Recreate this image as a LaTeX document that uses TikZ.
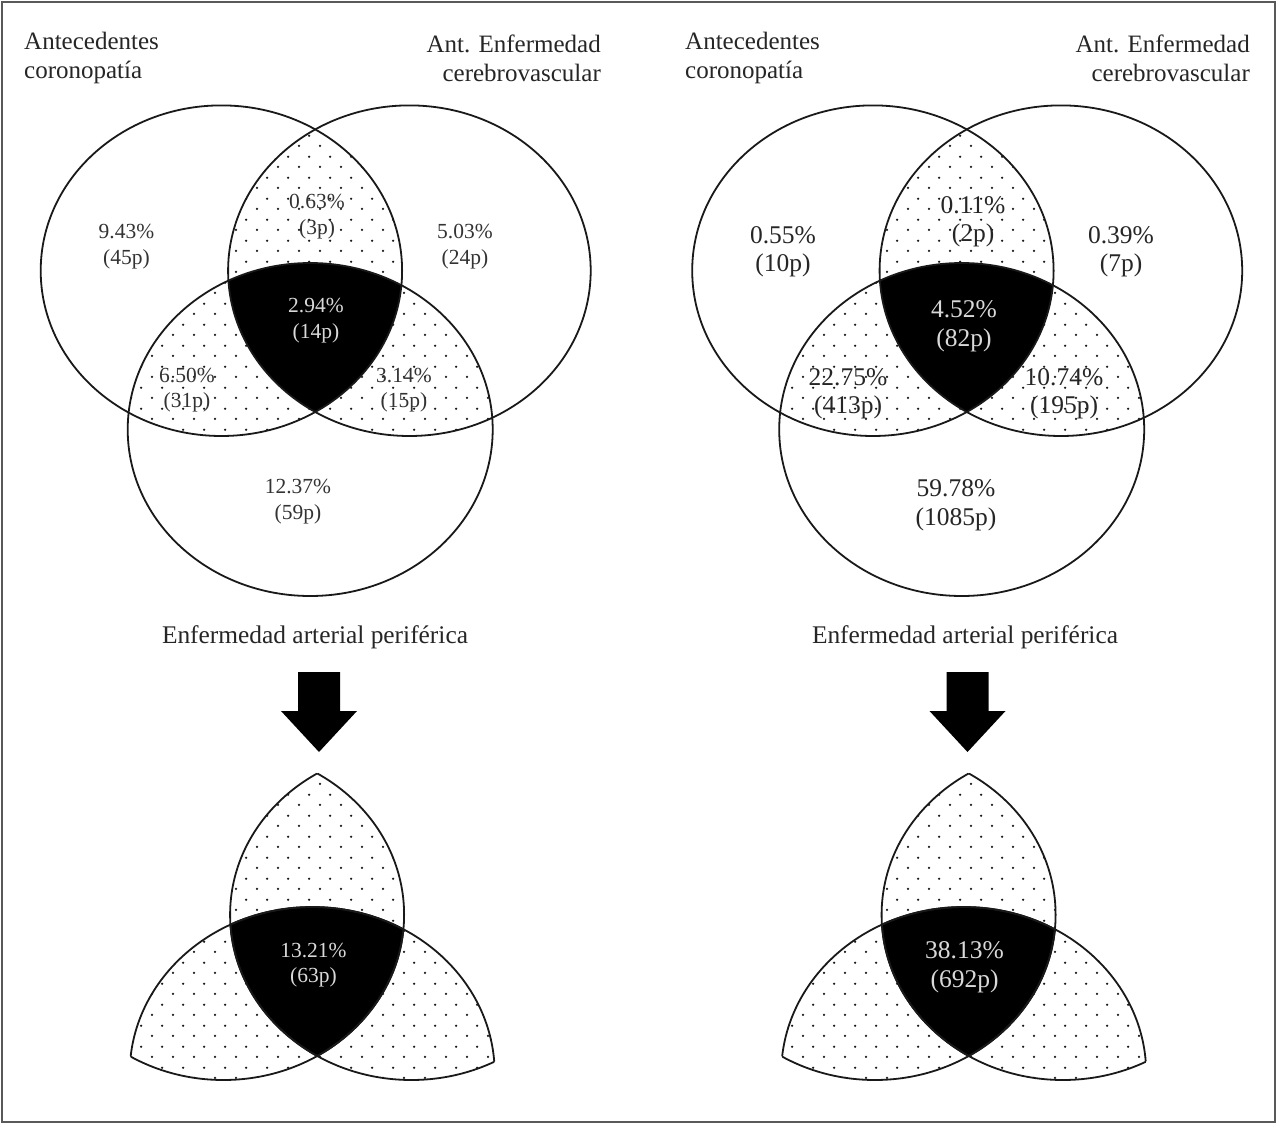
\documentclass[tikz,border=0pt]{standalone}
\usepackage{fontspec}
\setmainfont{Liberation Serif}
\usetikzlibrary{patterns.meta}

\tikzdeclarepattern{
  name=sparsedots,
  type=uncolored,
  bounding box={(0pt,0pt) and (21pt,20.6pt)},
  tile size={(21pt,20.6pt)},
  code={
    \pgfpathcircle{\pgfpoint{5.25pt}{5.15pt}}{1.3pt}
    \pgfpathcircle{\pgfpoint{15.75pt}{15.45pt}}{1.3pt}
    \pgfusepath{fill}
  }
}

\newcommand\vennfills{%
  \begin{scope}\clip[pL]; \fill[dotfill,pR]; \fill[dotfill,pB]; \end{scope}
  \begin{scope}\clip[pR]; \fill[dotfill,pB]; \end{scope}
  \begin{scope}\clip[pL]; \clip[pR]; \fill[black,pB]; \end{scope}
}
\newcommand\vennfull{%
  \vennfills
  \draw[vline,pL]; \draw[vline,pR]; \draw[vline,pB];
}
\newcommand\vennlobes{%
  \vennfills
  \begin{scope}\clip[pR]; \draw[vline,pL]; \draw[vline,pB]; \end{scope}
  \begin{scope}\clip[pL]; \draw[vline,pR]; \draw[vline,pB]; \end{scope}
  \begin{scope}\clip[pB]; \draw[vline,pL]; \draw[vline,pR]; \end{scope}
}

\begin{document}
\begin{tikzpicture}[x=1pt,y=-1pt,
  pL/.style={insert path={(221.4,270.7) ellipse [x radius=180.7, y radius=165.3]}},
  pR/.style={insert path={(409.4,270.7) ellipse [x radius=181.3, y radius=165.3]}},
  pB/.style={insert path={(310.2,429.5) ellipse [x radius=182.5, y radius=166.5]}},
  dotfill/.style={pattern=sparsedots, pattern color=black!90},
  vline/.style={draw=black!90, line width=1.8pt},
  hdr/.style={inner sep=0pt, font=\fontsize{25}{29}\selectfont, text=black!85},
  numL/.style={inner sep=0pt, align=center, font=\fontsize{21.5}{25.5}\selectfont, text=black!80},
  numR/.style={inner sep=0pt, align=center, font=\fontsize{25.5}{28.5}\selectfont, text=black!85},
  inv/.style={text=white!85!black},
  ttl/.style={inner sep=0pt, font=\fontsize{25.4}{29}\selectfont, text=black!85},
  blockarrow/.style={fill=black},
]
\useasboundingbox (0,0) rectangle (1277,1124);
\fill[white] (0,0) rectangle (1277,1124);
\draw[black!65, line width=2pt] (2,2) rectangle (1275,1122);

% ---------- left Venn ----------
\begin{scope}\vennfull\end{scope}
\node[hdr, anchor=west, align=left] (hL1) at (24,58) {Antecedentes\\coronopatía};
\node[hdr, anchor=east, align=right] (hL2) at (601,58) {Ant. Enfermedad\\cerebrovascular};
\node[numL] (a1) at (126.5,246.5) {9.43\%\\(45p)};
\node[numL] (a2) at (317,216.5) {0.63\%\\(3p)};
\node[numL] (a3) at (465,246.5) {5.03\%\\(24p)};
\node[numL, inv] (a4) at (316,320.5) {2.94\%\\(14p)};
\node[numL] (a5) at (187,390) {6.50\%\\(31p)};
\node[numL] (a6) at (404,390) {3.14\%\\(15p)};
\node[numL] (a7) at (298,501.5) {12.37\%\\(59p)};
\node[ttl] (tL) at (315,637) {Enfermedad arterial periférica};
\fill[blockarrow] (298,672) -- (340,672) -- (340,711) -- (357,711) -- (319,752)
  -- (281,711) -- (298,711) -- cycle;
\begin{scope}[shift={(2,644)}]\vennlobes\end{scope}
\node[numL, inv] (a8) at (313.5,965) {13.21\%\\(63p)};

% ---------- right Venn ----------
\begin{scope}[shift={(651.5,0)}]\vennfull\end{scope}
\node[hdr, anchor=west, align=left] (hR1) at (685,58) {Antecedentes\\coronopatía};
\node[hdr, anchor=east, align=right] (hR2) at (1250,58) {Ant. Enfermedad\\cerebrovascular};
\node[numR] (b1) at (783,251.5) {0.55\%\\(10p)};
\node[numR] (b2) at (973,221.5) {0.11\%\\(2p)};
\node[numR] (b3) at (1121,251.5) {0.39\%\\(7p)};
\node[numR, inv] (b4) at (964,326) {4.52\%\\(82p)};
\node[numR] (b5) at (848,393.5) {22.75\%\\(413p)};
\node[numR] (b6) at (1064,393.5) {10.74\%\\(195p)};
\node[numR] (b7) at (956,505) {59.78\%\\(1085p)};
\node[ttl] (tR) at (965,637) {Enfermedad arterial periférica};
\fill[blockarrow] (946.5,672) -- (988.5,672) -- (988.5,711) -- (1005.5,711) -- (967.5,752)
  -- (929.5,711) -- (946.5,711) -- cycle;
\begin{scope}[shift={(653.5,644)}]\vennlobes\end{scope}
\node[numR, inv] (b8) at (964.5,967) {38.13\%\\(692p)};
\end{tikzpicture}
\end{document}
